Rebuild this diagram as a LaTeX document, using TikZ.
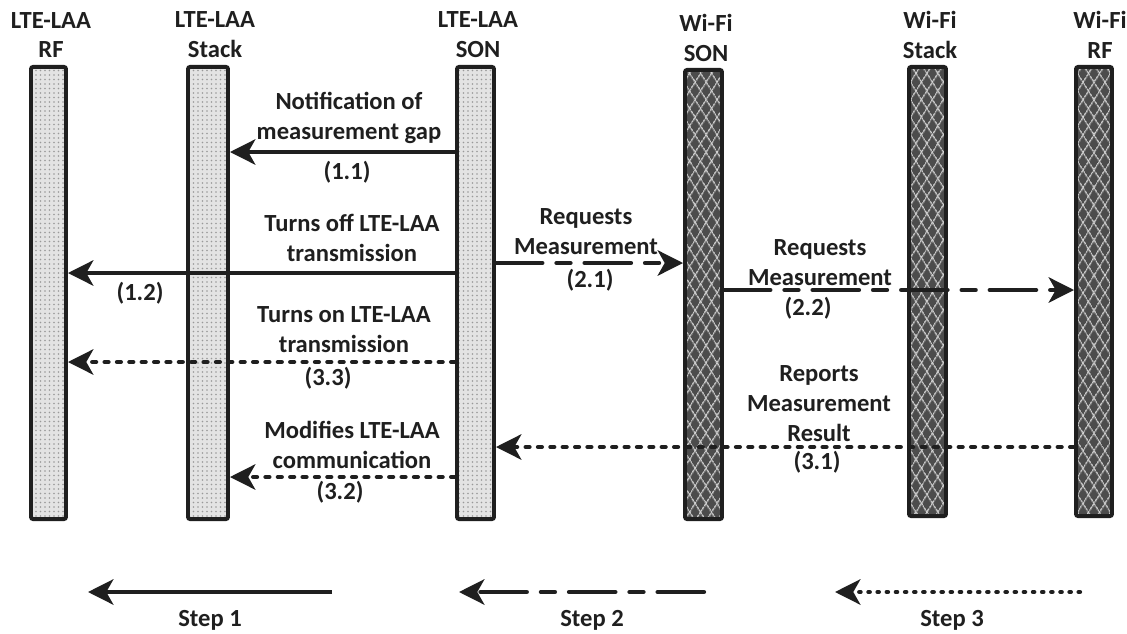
\documentclass[tikz,border=0pt]{standalone}
\usepackage{fontspec}
\setmainfont{Carlito}
\usetikzlibrary{arrows.meta,patterns.meta}

\begin{document}
\begin{tikzpicture}[x=0.025cm,y=-0.025cm,
  every node/.style={font=\bfseries\fontsize{17.5}{21.3}\selectfont,text=black!88,inner sep=0pt,align=center},
  bar/.style={rectangle,draw=black!88,line width=2.8pt,rounded corners=1.5pt,minimum height=11.3cm},
  ltebar/.style={bar,preaction={fill=gray!22},
    preaction={pattern color=gray!80,pattern={Dots[distance=3.2pt,radius=0.6pt]}}},
  wifibar/.style={bar,minimum height=11.225cm,preaction={fill=black!70},
    preaction={pattern color=gray!35,pattern={Lines[angle=58,distance=6.5pt,line width=0.8pt]}},
    preaction={pattern color=gray!35,pattern={Lines[angle=-58,distance=6.5pt,line width=0.8pt]}}},
  msg/.style={draw=black!88,line width=3pt,-{Stealth[length=18pt,width=18pt,inset=5pt]}},
  req/.style={msg,line cap=round,dash pattern=on 33pt off 10pt on 10pt off 10pt},
  rep/.style={msg,line cap=round,dash pattern=on 2.8pt off 6pt}]

\useasboundingbox (0,0) rectangle (1127,633);

% entities
\node[ltebar,minimum width=0.875cm] (lterf) at (48.5,293) {};
\node[ltebar,minimum width=1cm] (ltestack) at (208,293) {};
\node[ltebar,minimum width=0.925cm] (lteson) at (475.5,293) {};
\node[wifibar,minimum width=0.925cm] (wifison) at (703.5,294.5) {};
\node[wifibar,minimum width=0.925cm] (wifistack) at (927.5,291.5) {};
\node[wifibar,minimum width=0.9cm] (wifirf) at (1094,291.5) {};

\node (lterf-t) at (51,35) {LTE-LAA\\RF};
\node (ltestack-t) at (215,35) {LTE-LAA\\Stack};
\node (lteson-t) at (478,35) {LTE-LAA\\SON};
\node (wifison-t) at (706,38) {Wi-Fi\\SON};
\node (wifistack-t) at (930,35) {Wi-Fi\\Stack};
\node (wifirf-t) at (1100,35) {Wi-Fi\\RF};

% step 1
\draw[msg] (lteson.west |- 0,152) -- (ltestack.east |- 0,152);
\node (m11) at (349,118) {Notification of\\measurement gap};
\node (n11) at (347,172) {(1.1)};
\draw[msg] (lteson.west |- 0,273) -- (lterf.east |- 0,273);
\node (m12) at (352,238) {Turns off LTE-LAA\\transmission};
\node (n12) at (140,293) {(1.2)};

% step 2
\draw[req] (lteson.east |- 0,263) -- (wifison.west |- 0,263);
\node (m21) at (586,232) {Requests\\Measurement};
\node (n21) at (590,280) {(2.1)};
\draw[req] (wifison.east |- 0,290) -- (wifirf.west |- 0,290);
\node (m22) at (820,263) {Requests\\Measurement};
\node (n22) at (808,308) {(2.2)};

% step 3
\draw[rep] (wifirf.west |- 0,447) -- (lteson.east |- 0,447);
\node (m31) at (819,404) {Reports\\Measurement\\Result};
\node (n31) at (817,462) {(3.1)};
\draw[rep] (lteson.west |- 0,477) -- (ltestack.east |- 0,477);
\node (m32) at (352,445) {Modifies LTE-LAA\\communication};
\node (n32) at (340,492) {(3.2)};
\draw[rep] (lteson.west |- 0,362) -- (lterf.east |- 0,362);
\node (m33) at (344,330) {Turns on LTE-LAA\\transmission};
\node (n33) at (328,378) {(3.3)};

% legend
\coordinate (s1tail) at (332,592);
\coordinate (s1head) at (88,592);
\draw[msg] (s1tail) -- (s1head);
\node (step1) at (210,620) {Step 1};
\coordinate (s2tail) at (704,592);
\coordinate (s2head) at (459,592);
\draw[req] (s2tail) -- (s2head);
\node (step2) at (592,620) {Step 2};
\coordinate (s3tail) at (1080,592);
\coordinate (s3head) at (835,592);
\draw[rep,dash pattern=on 1pt off 5.5pt] (s3tail) -- (s3head);
\node (step3) at (952,620) {Step 3};

\end{tikzpicture}
\end{document}
